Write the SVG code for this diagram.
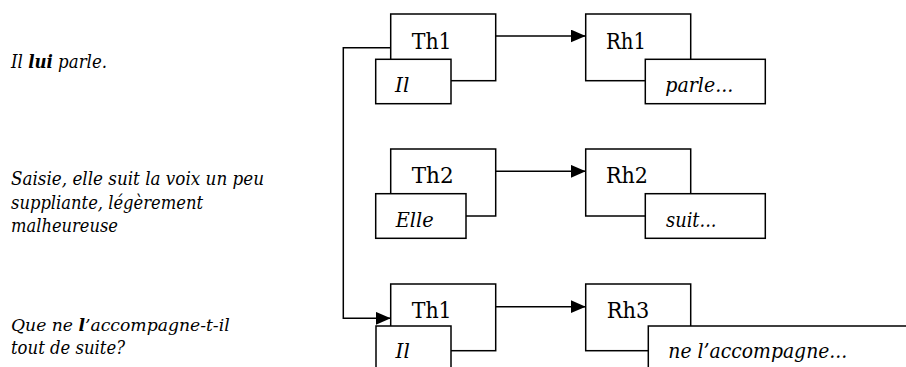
<svg xmlns="http://www.w3.org/2000/svg" width="906" height="367" viewBox="0 0 906 367">
<style>
.box{fill:#fff;stroke:#000;stroke-width:1.5}
.lab{font-family:'DejaVu Serif','Liberation Serif',serif;font-size:22px;fill:#000}
.it{font-family:'DejaVu Serif','Liberation Serif',serif;font-size:20px;font-style:italic;fill:#000}
.side{font-family:'DejaVu Serif','Liberation Serif',serif;font-size:18px;font-style:italic;fill:#000}
.b{font-weight:bold}
.con{fill:none;stroke:#000;stroke-width:1.5}
</style>
<defs>
<marker id="ah" markerUnits="userSpaceOnUse" markerWidth="16" markerHeight="14" refX="15" refY="6.5" orient="auto">
<path d="M0,0 L15,6.5 L0,13 Z" fill="#000"/>
</marker>
</defs>
<g id="sentences">
<text class="side" x="11" y="68" textLength="96" lengthAdjust="spacingAndGlyphs">Il <tspan class="b">lui</tspan> parle.</text>
<text class="side" x="11" y="185" textLength="253" lengthAdjust="spacingAndGlyphs">Saisie, elle suit la voix un peu</text>
<text class="side" x="11" y="208.5" textLength="192" lengthAdjust="spacingAndGlyphs">suppliante, légèrement</text>
<text class="side" x="11" y="232" textLength="107" lengthAdjust="spacingAndGlyphs">malheureuse</text>
<text class="side" x="11" y="331" style="font-size:17.2px">Que ne <tspan class="b">l</tspan>’accompagne-t-il</text>
<text class="side" x="11" y="354" textLength="114" lengthAdjust="spacingAndGlyphs">tout de suite?</text>
</g>
<g id="th1a">
<rect class="box" x="390.7" y="14" width="105" height="66.7"/>
<text class="lab" x="411.7" y="49.3" textLength="40" lengthAdjust="spacingAndGlyphs">Th1</text>
<rect class="box" x="375.7" y="59.3" width="75.3" height="44.4"/>
<text class="it" x="395" y="91.7">Il</text>
</g>
<g id="rh1">
<rect class="box" x="585.7" y="14" width="105" height="66.7"/>
<text class="lab" x="606" y="49.3" textLength="40" lengthAdjust="spacingAndGlyphs">Rh1</text>
<rect class="box" x="645.3" y="59.3" width="120" height="44.4"/>
<text class="it" x="665.3" y="91.7" textLength="68" lengthAdjust="spacingAndGlyphs">parle...</text>
</g>
<g id="th2">
<rect class="box" x="390.7" y="149" width="105" height="67"/>
<text class="lab" x="411.7" y="183.3" textLength="42" lengthAdjust="spacingAndGlyphs">Th2</text>
<rect class="box" x="375.7" y="193.7" width="90.3" height="44.6"/>
<text class="it" x="395.7" y="226.7" textLength="38" lengthAdjust="spacingAndGlyphs">Elle</text>
</g>
<g id="rh2">
<rect class="box" x="585.7" y="149" width="105" height="67"/>
<text class="lab" x="606" y="183.3" textLength="42" lengthAdjust="spacingAndGlyphs">Rh2</text>
<rect class="box" x="645.3" y="193.7" width="120" height="44.6"/>
<text class="it" x="666" y="226.7" textLength="50.5" lengthAdjust="spacingAndGlyphs">suit...</text>
</g>
<g id="th1b">
<rect class="box" x="390.7" y="284" width="105" height="66.7"/>
<text class="lab" x="411.7" y="318.3" textLength="40" lengthAdjust="spacingAndGlyphs">Th1</text>
<rect class="box" x="376" y="326" width="75" height="60"/>
<text class="it" x="395.5" y="358.3">Il</text>
</g>
<g id="rh3">
<rect class="box" x="585.7" y="284" width="105" height="66.7"/>
<text class="lab" x="606.7" y="318.3" textLength="42.5" lengthAdjust="spacingAndGlyphs">Rh3</text>
<rect class="box" x="648.3" y="326" width="280" height="60"/>
<text class="it" x="668.3" y="358.3" textLength="179" lengthAdjust="spacingAndGlyphs">ne l’accompagne...</text>
</g>
<g id="connectors">
<path class="con" d="M495.7,36 L585.7,36" marker-end="url(#ah)"/>
<path class="con" d="M495.7,171.3 L585.7,171.3" marker-end="url(#ah)"/>
<path class="con" d="M495.7,306.7 L585.7,306.7" marker-end="url(#ah)"/>
<path class="con" d="M390.7,47.7 L343.3,47.7 L343.3,318.3 L390.7,318.3" marker-end="url(#ah)"/>
</g>
</svg>
